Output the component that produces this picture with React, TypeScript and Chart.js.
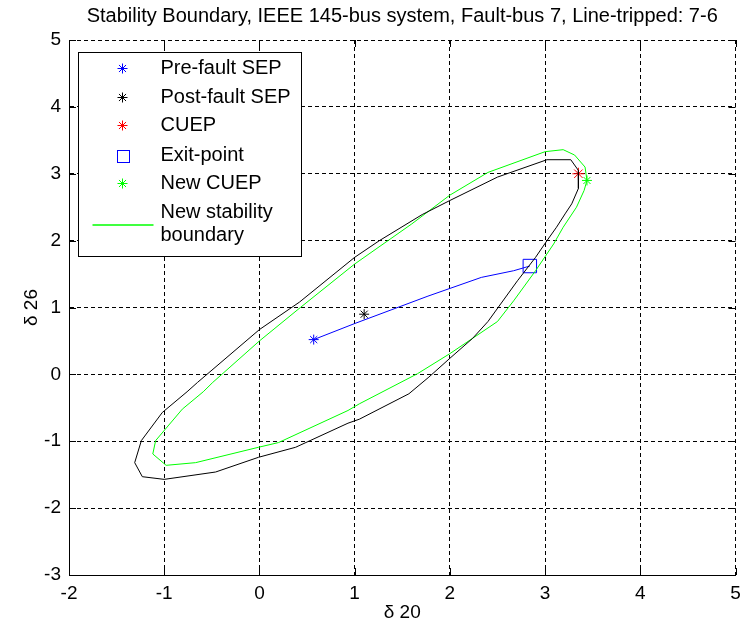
import React, { useEffect, useRef } from "react";
import { Chart, registerables } from "chart.js";

Chart.register(...registerables);

const TITLE = "Stability Boundary, IEEE 145-bus system, Fault-bus 7, Line-tripped: 7-6";
const X_LABEL = "δ 20";
const Y_LABEL = "δ 26";

const X_MIN = -2;
const X_MAX = 5;
const Y_MIN = -3;
const Y_MAX = 5;

// Original (post-fault) stability boundary, black
const boundaryX = [3.02, 3.27, 3.35, 3.35, 3.28, 3.21, 3.12, 3.02, 2.9, 2.71, 2.4, 2.24, 2.0, 1.78, 1.57, 1.05, 0.93, 0.38, -0.01, -0.46, -1.0, -1.23, -1.31, -1.24, -1.02, -0.76, -0.65, 0.0, 0.42, 1.0, 1.26, 1.71, 2.0, 2.5, 3.02];
const boundaryY = [3.21, 3.21, 3.05, 2.78, 2.55, 2.4, 2.2, 2.0, 1.75, 1.4, 0.79, 0.54, 0.24, -0.04, -0.29, -0.67, -0.73, -1.09, -1.24, -1.46, -1.57, -1.53, -1.32, -0.99, -0.57, -0.26, -0.12, 0.67, 1.08, 1.75, 2.0, 2.39, 2.6, 2.95, 3.21];

// New stability boundary, green
const newBoundaryX = [3.19, 3.31, 3.42, 3.44, 3.41, 3.33, 3.19, 3.09, 2.9, 2.67, 2.5, 2.24, 2.0, 1.66, 1.05, 0.93, 0.2, -0.01, -0.67, -0.98, -1.12, -1.09, -0.81, -0.59, -0.49, 0.0, 0.43, 1.0, 1.6, 2.0, 2.4, 3.0, 3.19];
const newBoundaryY = [3.36, 3.28, 3.1, 2.9, 2.75, 2.5, 2.2, 1.95, 1.55, 1.1, 0.79, 0.54, 0.31, 0.01, -0.44, -0.54, -1.02, -1.09, -1.32, -1.36, -1.19, -0.99, -0.52, -0.26, -0.12, 0.5, 1.0, 1.65, 2.25, 2.68, 3.02, 3.33, 3.36];

// Fault-on trajectory, blue
const trajectoryX = [0.57, 1.0, 1.77, 2.33, 2.67, 2.84];
const trajectoryY = [0.52, 0.76, 1.17, 1.45, 1.55, 1.62];

// Special points
const preFaultSEP = [0.57, 0.52];
const postFaultSEP = [1.1, 0.9];
const cuepPoint = [3.35, 3.0];
const exitPoint = [2.84, 1.62];
const newCuepPoint = [3.44, 2.9];

const LEGEND_LABELS = ["Pre-fault SEP", "Post-fault SEP", "CUEP", "Exit-point", "New CUEP", "New stability", "boundary"];

const FONT = "'Liberation Sans', Arial, Helvetica, sans-serif";

const toPts = (xs: number[], ys: number[]) => xs.map((x, i) => ({ x, y: ys[i] }));

function drawStar(ctx: CanvasRenderingContext2D, x: number, y: number, r: number, color: string) {
  ctx.save();
  ctx.strokeStyle = color;
  ctx.lineWidth = 1;
  ctx.beginPath();
  ctx.moveTo(x - r, y);
  ctx.lineTo(x + r, y);
  ctx.moveTo(x, y - r);
  ctx.lineTo(x, y + r);
  const d = r * Math.SQRT1_2;
  ctx.moveTo(x - d, y - d);
  ctx.lineTo(x + d, y + d);
  ctx.moveTo(x - d, y + d);
  ctx.lineTo(x + d, y - d);
  ctx.stroke();
  ctx.restore();
}

const inwardTicks = {
  id: "inwardTicks",
  afterDatasetsDraw(chart: any) {
    const { ctx, chartArea: ca, scales } = chart;
    const len = 7;
    ctx.save();
    ctx.strokeStyle = "#000";
    ctx.lineWidth = 1;
    ctx.beginPath();
    for (let v = X_MIN; v <= X_MAX; v++) {
      const px = Math.round(scales.x.getPixelForValue(v)) + 0.5;
      ctx.moveTo(px, ca.bottom);
      ctx.lineTo(px, ca.bottom - len);
      ctx.moveTo(px, ca.top);
      ctx.lineTo(px, ca.top + len);
    }
    for (let v = Y_MIN; v <= Y_MAX; v++) {
      const py = Math.round(scales.y.getPixelForValue(v)) + 0.5;
      ctx.moveTo(ca.left, py);
      ctx.lineTo(ca.left + len, py);
      ctx.moveTo(ca.right, py);
      ctx.lineTo(ca.right - len, py);
    }
    ctx.stroke();
    ctx.restore();
  },
};

const boxLegend = {
  id: "boxLegend",
  afterDraw(chart: any) {
    const { ctx, chartArea: ca } = chart;
    const left = Math.round(ca.left + 9) + 0.5;
    const top = Math.round(ca.top + 12) + 0.5;
    const w = 223;
    const h = 204;
    ctx.save();
    ctx.fillStyle = "#fff";
    ctx.fillRect(left, top, w, h);
    ctx.strokeStyle = "#000";
    ctx.lineWidth = 1;
    ctx.strokeRect(left, top, w, h);

    const mx = left + 44;
    const tx = left + 82;
    const rows = [16, 45, 73, 103, 131];
    const colors = ["#0000ff", "#000000", "#ff0000", "#0000ff", "#00ff00"];
    ctx.font = `20px ${FONT}`;
    ctx.fillStyle = "#000";
    ctx.textBaseline = "middle";
    ctx.textAlign = "left";
    rows.forEach((ry, i) => {
      const y = top + ry;
      if (i === 3) {
        ctx.save();
        ctx.strokeStyle = colors[i];
        ctx.lineWidth = 1;
        ctx.strokeRect(Math.round(mx - 6) + 0.5, Math.round(y - 6) + 0.5, 12, 12);
        ctx.restore();
      } else {
        drawStar(ctx, mx, y, 5, colors[i]);
      }
      ctx.fillText(LEGEND_LABELS[i], tx, y);
    });
    // line entry
    const ly = Math.round(top + 172);
    ctx.save();
    ctx.strokeStyle = "#00ff00";
    ctx.lineWidth = 1.5;
    ctx.beginPath();
    ctx.moveTo(left + 14, ly);
    ctx.lineTo(left + 75, ly);
    ctx.stroke();
    ctx.restore();
    ctx.fillText(LEGEND_LABELS[5], tx, top + 160);
    ctx.fillText(LEGEND_LABELS[6], tx, top + 183);
    ctx.restore();
  },
};

export default function App() {
  const ref = useRef<HTMLCanvasElement | null>(null);

  useEffect(() => {
    document.body.style.margin = "0";
    const canvas = ref.current;
    if (!canvas) return;
    const pointDs = (label: string, p: number[], color: string, style: string, radius: number) => ({
      label,
      data: [{ x: p[0], y: p[1] }],
      showLine: false,
      pointStyle: style,
      pointRadius: radius,
      pointBorderColor: color,
      pointBackgroundColor: "rgba(0,0,0,0)",
      pointBorderWidth: 1,
      borderColor: color,
    });
    const lineDs = (label: string, xs: number[], ys: number[], color: string) => ({
      label,
      data: toPts(xs, ys),
      showLine: true,
      borderColor: color,
      borderWidth: 1,
      pointRadius: 0,
      fill: false,
      tension: 0,
    });

    const chart = new Chart(canvas, {
      type: "scatter",
      data: {
        datasets: [
          lineDs("Stability boundary", boundaryX, boundaryY, "#000000"),
          lineDs("New stability boundary", newBoundaryX, newBoundaryY, "#00ff00"),
          lineDs("Trajectory", trajectoryX, trajectoryY, "#0000ff"),
          pointDs("Pre-fault SEP", preFaultSEP, "#0000ff", "star", 5),
          pointDs("Post-fault SEP", postFaultSEP, "#000000", "star", 5),
          pointDs("CUEP", cuepPoint, "#ff0000", "star", 6),
          pointDs("Exit-point", exitPoint, "#0000ff", "rect", 9.5),
          pointDs("New CUEP", newCuepPoint, "#00ff00", "star", 5),
        ] as any,
      },
      options: {
        animation: false,
        responsive: false,
        maintainAspectRatio: false,
        events: [],
        layout: { padding: { left: 0, right: 0, top: 0, bottom: 0 } },
        plugins: {
          legend: { display: false },
          tooltip: { enabled: false },
          title: {
            display: true,
            text: TITLE,
            fullSize: false,
            color: "#000",
            font: { family: FONT, size: 20, weight: "normal", lineHeight: 1.2 },
            padding: { top: 4, bottom: 12 },
          },
        },
        scales: {
          x: {
            type: "linear",
            min: X_MIN,
            max: X_MAX,
            afterFit: (s: any) => {
              s.height = 53;
              s.paddingRight = 7;
            },
            ticks: {
              stepSize: 1,
              color: "#000",
              padding: 7,
              font: { family: FONT, size: 19 },
            },
            grid: { color: "#000", lineWidth: 1, drawTicks: false },
            border: { display: true, color: "#000", width: 1, dash: [4, 3] },
            title: {
              display: true,
              text: X_LABEL,
              color: "#000",
              font: { family: FONT, size: 19 },
              padding: { top: 0, bottom: 4 },
            },
          },
          y: {
            type: "linear",
            min: Y_MIN,
            max: Y_MAX,
            afterFit: (s: any) => {
              s.width = 69;
            },
            ticks: {
              stepSize: 1,
              color: "#000",
              padding: 8,
              font: { family: FONT, size: 19 },
            },
            grid: { color: "#000", lineWidth: 1, drawTicks: false },
            border: { display: true, color: "#000", width: 1, dash: [4, 3] },
            title: {
              display: true,
              text: Y_LABEL,
              color: "#000",
              font: { family: FONT, size: 19 },
              padding: { top: 20, bottom: 0 },
            },
          },
        },
      } as any,
      plugins: [inwardTicks, boxLegend],
    });
    return () => chart.destroy();
  }, []);

  return (
    <div style={{ width: 746, height: 628, background: "#fff" }}>
      <canvas ref={ref} width={746} height={628} style={{ display: "block" }} />
    </div>
  );
}
